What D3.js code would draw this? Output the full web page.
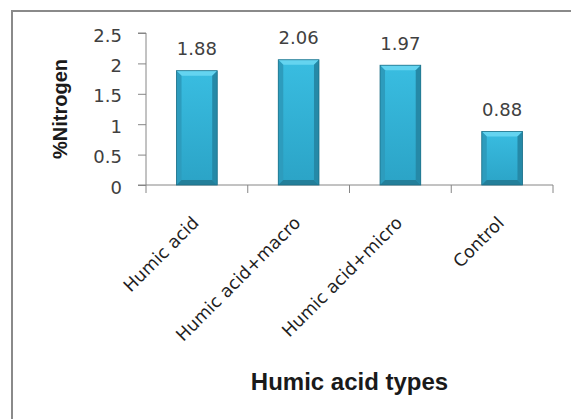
<!DOCTYPE html>
<html>
<head>
<meta charset="utf-8">
<script src="https://cdn.jsdelivr.net/npm/d3@7/dist/d3.min.js"></script>
<style>
  html, body { margin: 0; padding: 0; background: #fff; }
  svg { display: block; }
</style>
</head>
<body>
<svg id="chart" width="571" height="419"></svg>
<script>
// ---- data ----
const categories = ["Humic acid", "Humic acid+macro", "Humic acid+micro", "Control"];
const nitrogen = [1.88, 2.06, 1.97, 0.88];
const yTicks = [0, 0.5, 1, 1.5, 2, 2.5];
const yTickLabels = ["0", "0.5", "1", "1.5", "2", "2.5"];
const xTitle = "Humic acid types";
const yTitle = "%Nitrogen";

(function () {
const svg = d3.select("#chart");
const W = 571, H = 419;

// frame
svg.append("rect").attr("x", 12).attr("y", 11)
  .attr("width", W + 10).attr("height", H + 10)
  .attr("fill", "#fff").attr("stroke", "#8a8a8a").attr("stroke-width", 2);

const pLeft = 146, pRight = 553, pTop = 33, pBottom = 185;

const x = d3.scaleBand().domain(categories).range([pLeft, pRight])
  .paddingInner(0.6).paddingOuter(0.3);
const y = d3.scaleLinear().domain([0, 2.5]).range([pBottom, pTop]);

// gradients
const defs = svg.append("defs");
const g1 = defs.append("linearGradient").attr("id", "body")
  .attr("x1", 0).attr("y1", 0).attr("x2", 0).attr("y2", 1);
g1.append("stop").attr("offset", "0%").attr("stop-color", "#39bde1");
g1.append("stop").attr("offset", "100%").attr("stop-color", "#2ba3c6");

// y axis
const yAxis = d3.axisLeft(y).tickValues(yTicks)
  .tickFormat((d, i) => yTickLabels[i]).tickSize(8).tickPadding(16);
const ya = svg.append("g").attr("transform", `translate(${pLeft},0)`).call(yAxis);
ya.select(".domain").attr("stroke", "#868686").attr("d", `M-8,${pTop}H0V${pBottom}H-8`);
ya.selectAll(".tick line").attr("stroke", "#868686");
ya.selectAll(".tick text")
  .attr("font-family", "DejaVu Sans").attr("font-size", 18)
  .attr("fill", "#404040").attr("dy", "0.45em");

// x axis line and ticks at band boundaries
const xa = svg.append("g");
xa.append("line").attr("x1", pLeft).attr("x2", pRight).attr("y1", pBottom).attr("y2", pBottom)
  .attr("stroke", "#868686");
const tickXs = [pLeft].concat(categories.map((c, i) => pLeft + x.step() * (i + 1)));
xa.selectAll("line.t").data(tickXs).join("line").attr("class", "t")
  .attr("x1", d => d).attr("x2", d => d).attr("y1", pBottom).attr("y2", pBottom + 8)
  .attr("stroke", "#868686");

// bars with bevel
const b = 5;
const bars = svg.append("g").selectAll("g.bar").data(categories).join("g").attr("class", "bar");
bars.each(function (c, i) {
  const g = d3.select(this);
  const bx = x(c), bw = x.bandwidth(), by = y(nitrogen[i]), bh = pBottom - by;
  g.append("rect").attr("x", bx).attr("y", by).attr("width", bw).attr("height", bh)
    .attr("fill", "url(#body)");
  g.append("polygon").attr("points",
    `${bx},${by} ${bx + bw},${by} ${bx + bw - b},${by + b} ${bx + b},${by + b}`)
    .attr("fill", "#64d4f0");
  g.append("polygon").attr("points",
    `${bx},${by} ${bx + b},${by + b} ${bx + b},${by + bh - b} ${bx},${by + bh}`)
    .attr("fill", "#2d9cbd");
  g.append("polygon").attr("points",
    `${bx + bw},${by} ${bx + bw - b},${by + b} ${bx + bw - b},${by + bh - b} ${bx + bw},${by + bh}`)
    .attr("fill", "#2589a7");
  g.append("polygon").attr("points",
    `${bx},${by + bh} ${bx + b},${by + bh - b} ${bx + bw - b},${by + bh - b} ${bx + bw},${by + bh}`)
    .attr("fill", "#237f9a");
  g.append("rect").attr("x", bx).attr("y", by).attr("width", bw).attr("height", bh)
    .attr("fill", "none").attr("stroke", "#1d6f87").attr("stroke-width", 0.8);
  g.append("text").attr("x", bx + bw / 2).attr("y", by - 15.5)
    .attr("text-anchor", "middle").attr("font-family", "DejaVu Sans")
    .attr("font-size", 18).attr("fill", "#404040")
    .text(nitrogen[i].toFixed(2));
});

// category labels
svg.append("g").selectAll("text").data(categories).join("text")
  .attr("transform", c => `translate(${x(c) + x.bandwidth() / 2 + 3},224) rotate(-45)`)
  .attr("text-anchor", "end").attr("font-family", "DejaVu Sans")
  .attr("font-size", 17.5).attr("fill", "#1f1f1f")
  .text(c => c);

// titles
svg.append("text").attr("x", (pLeft + pRight) / 2).attr("y", 390)
  .attr("text-anchor", "middle").attr("font-family", "Liberation Sans")
  .attr("font-weight", "bold").attr("font-size", 24).attr("fill", "#1a1a1a")
  .text(xTitle);
svg.append("text").attr("transform", `translate(66.5,${(pTop + pBottom) / 2}) rotate(-90)`)
  .attr("text-anchor", "middle").attr("font-family", "Liberation Sans")
  .attr("font-weight", "bold").attr("font-size", 20).attr("fill", "#1a1a1a")
  .text(yTitle);
})();
</script>
</body>
</html>
